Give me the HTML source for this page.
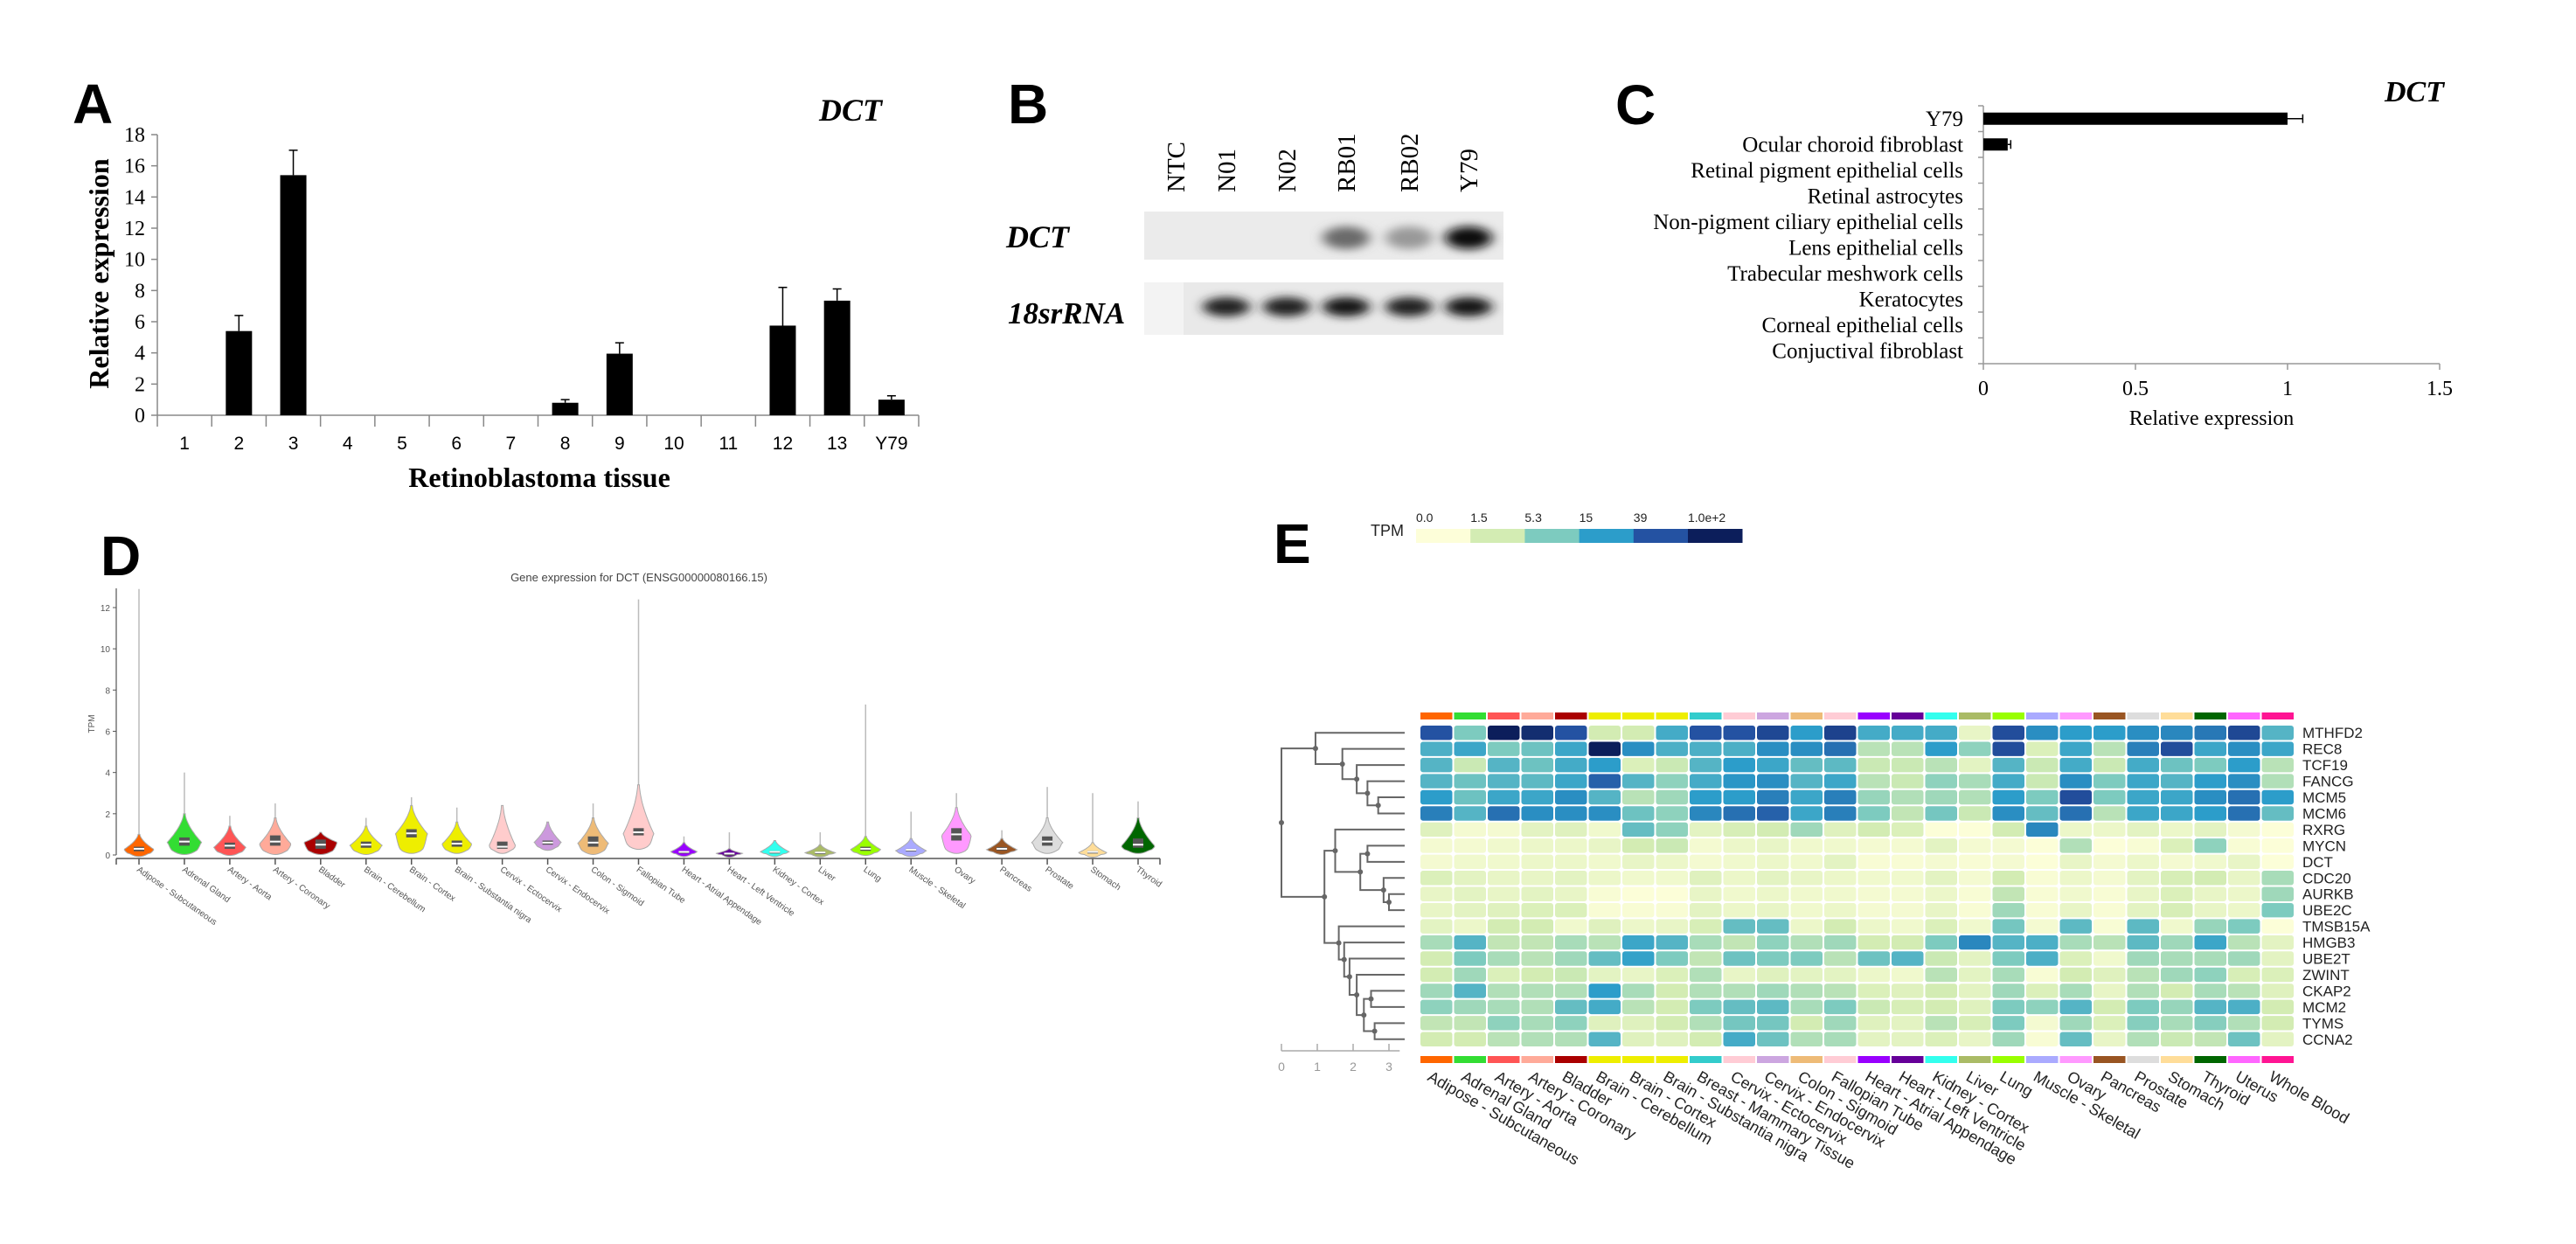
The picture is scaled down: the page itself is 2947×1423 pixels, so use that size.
<!DOCTYPE html>
<html><head><meta charset="utf-8"><title>DCT expression figure</title>
<style>
html,body{margin:0;padding:0;background:#fff;}
svg{display:block;}
.lbl{font-family:"Liberation Sans",sans-serif;font-weight:bold;font-size:64px;fill:#000;}
.ser{font-family:"Liberation Serif",serif;}
.san{font-family:"Liberation Sans",sans-serif;}
</style></head>
<body>
<svg id="fig" xmlns="http://www.w3.org/2000/svg" width="2947" height="1423" viewBox="0 0 2947 1423">
<defs>
<filter id="blur" x="-50%" y="-80%" width="200%" height="260%"><feGaussianBlur stdDeviation="7 5"/></filter>
</defs>
<rect x="0" y="0" width="2947" height="1423" fill="#fff"/>
<text class="lbl" x="83" y="141">A</text>
<text class="lbl" x="1153" y="141">B</text>
<text class="lbl" x="1848" y="142">C</text>
<text class="lbl" x="115" y="658">D</text>
<text class="lbl" x="1457" y="644">E</text>
<g id="pa"></g>
<g id="pb"></g>
<g id="pc"></g>
<g id="pd"></g>
<g id="pe"></g>
</svg>
<script>
// ---------- Panel A data ----------
const aCategories = ["1","2","3","4","5","6","7","8","9","10","11","12","13","Y79"];
const aValues = [0,5.4,15.4,0,0,0,0,0.8,3.95,0,0,5.75,7.35,1.0];
const aErrTop = [0,6.4,17.0,0,0,0,0,1.0,4.65,0,0,8.2,8.1,1.25];
const aTicks = [0,2,4,6,8,10,12,14,16,18];
// ---------- Panel B data ----------
const bLanes = ["NTC","N01","N02","RB01","RB02","Y79"];
const bDctIntensity = [0,0,0,0.55,0.35,0.95];
const b18sIntensity = [0,0.85,0.85,0.92,0.85,0.9];
// ---------- Panel C data ----------
const cCategories = ["Y79","Ocular choroid fibroblast","Retinal pigment epithelial cells","Retinal astrocytes","Non-pigment ciliary epithelial cells","Lens epithelial cells","Trabecular meshwork cells","Keratocytes","Corneal epithelial cells","Conjuctival fibroblast"];
const cValues = [1.0,0.08,0,0,0,0,0,0,0,0];
const cErr = [0.05,0.01,0,0,0,0,0,0,0,0];
const cTicks = [0,0.5,1,1.5];
const cTickLabels = ["0","0.5","1","1.5"];
// ---------- Panel D data ----------
const dTissues = ["Adipose - Subcutaneous","Adrenal Gland","Artery - Aorta","Artery - Coronary","Bladder","Brain - Cerebellum","Brain - Cortex","Brain - Substantia nigra","Cervix - Ectocervix","Cervix - Endocervix","Colon - Sigmoid","Fallopian Tube","Heart - Atrial Appendage","Heart - Left Ventricle","Kidney - Cortex","Liver","Lung","Muscle - Skeletal","Ovary","Pancreas","Prostate","Stomach","Thyroid"];
const dColors = ["#ff6600","#33dd33","#ff5555","#ffaa99","#aa0000","#eeee00","#eeee00","#eeee00","#ffcccc","#cc99dd","#eebb77","#ffcccc","#9900ff","#660099","#33ffee","#aabb66","#99ff00","#aaaaff","#ff99ff","#995522","#dddddd","#ffdd99","#006600"];
const dMin = [0.05,0.15,0.1,0.15,0.15,0.15,0.2,0.2,0.2,0.35,0.15,0.4,0.05,0.02,0.05,0.03,0.1,0.05,0.2,0.15,0.2,0.02,0.2];
const dMode = [0.25,0.6,0.35,0.5,0.6,0.45,1.0,0.5,0.4,0.6,0.55,1.0,0.15,0.07,0.15,0.1,0.25,0.2,0.9,0.25,0.6,0.1,0.4];
const dBodyTop = [1.0,2.0,1.4,1.8,1.1,1.4,2.4,1.6,2.4,1.6,1.8,3.4,0.6,0.3,0.7,0.5,0.9,0.8,2.3,0.8,1.8,0.6,1.8];
const dMax = [12.9,4.0,1.9,2.5,1.1,1.8,2.8,2.3,2.4,1.6,2.5,12.4,0.9,1.1,0.7,1.1,7.3,2.1,3.0,1.2,3.3,3.0,2.6];
const dQ1 = [0.18,0.45,0.3,0.45,0.3,0.35,0.85,0.4,0.3,0.5,0.4,0.95,0.1,0.04,0.1,0.07,0.2,0.2,0.7,0.22,0.45,0.1,0.35];
const dMed = [0.3,0.65,0.45,0.65,0.5,0.5,1.05,0.55,0.4,0.6,0.6,1.1,0.15,0.07,0.15,0.12,0.3,0.25,1.0,0.3,0.65,0.15,0.5];
const dQ3 = [0.4,0.85,0.6,0.95,0.75,0.65,1.25,0.7,0.65,0.7,0.9,1.3,0.2,0.1,0.2,0.17,0.4,0.3,1.3,0.38,0.9,0.2,0.8];
const dWidth = [0.8,0.9,0.85,0.85,0.9,0.85,0.85,0.8,0.7,0.7,0.8,0.8,0.7,0.7,0.75,0.8,0.8,0.8,0.8,0.8,0.8,0.75,0.9];
const dTicks = [0,2,4,6,8,10,12];
// ---------- Panel E data ----------
const eGenes = ["MTHFD2","REC8","TCF19","FANCG","MCM5","MCM6","RXRG","MYCN","DCT","CDC20","AURKB","UBE2C","TMSB15A","HMGB3","UBE2T","ZWINT","CKAP2","MCM2","TYMS","CCNA2"];
const eTissues = ["Adipose - Subcutaneous","Adrenal Gland","Artery - Aorta","Artery - Coronary","Bladder","Brain - Cerebellum","Brain - Cortex","Brain - Substantia nigra","Breast - Mammary Tissue","Cervix - Ectocervix","Cervix - Endocervix","Colon - Sigmoid","Fallopian Tube","Heart - Atrial Appendage","Heart - Left Ventricle","Kidney - Cortex","Liver","Lung","Muscle - Skeletal","Ovary","Pancreas","Prostate","Stomach","Thyroid","Uterus","Whole Blood"];
const eTissueColors = ["#ff6600","#33dd33","#ff5555","#ffaa99","#aa0000","#eeee00","#eeee00","#eeee00","#33cccc","#ffccd5","#cca6e0","#eebb77","#ffccd5","#9900ff","#660099","#33ffee","#aabb66","#99ff00","#aaaaff","#ff99ff","#995522","#dddddd","#ffdd99","#006600","#ff66ff","#ff1493"];
const eValues = [
[4,2,5,4.7,4,1,1,2.7,4,4,4.2,3,4.3,2.7,2.7,2.7,0.5,4.1,3.2,3,3,3.2,3.3,3.5,4.2,2.5],
[2.6,2.8,2,2.2,2.8,5,3.2,2.6,2.6,2.6,3.2,3.2,3.6,1.3,1.3,3,1.8,4.1,0.8,2.8,1.3,3.4,4.1,2.8,3.2,2.8],
[2.5,1.1,2.5,2.2,2.7,3,0.8,1.1,2.5,3,2.8,2.3,2.4,1.1,1.1,1.3,0.6,2.5,1.1,2.7,1.1,2.7,2.2,2,3,1.3],
[2.5,2.2,2.5,2.4,2.8,3.8,2.5,1.8,2.7,3.1,3.2,2.5,2.8,1.3,1.1,1.8,1.5,2.7,1.1,3.2,2,2.8,2.5,3,3.2,1.4],
[3,2.2,2.8,2.8,3.2,2.5,1.3,1.6,3,3,3.4,2.8,3.4,1.7,1.4,1.6,1.4,3,2,4.1,2,2.8,2.8,3.2,3.6,3],
[3.4,2.5,3.6,3.2,3.2,3.2,2.2,1.8,3.3,3.6,3.8,2.8,3.4,2,1.2,2.1,1.1,3.2,2.3,3.6,1.3,2.8,2.8,3,3.6,2.3],
[0.7,0.2,0.2,0.6,0.7,0.3,2.3,1.8,0.6,0.9,1,1.6,0.7,1,0.8,0,0,1,3.3,0.4,0.4,0.6,0.4,0.6,0.2,0],
[0.2,0.2,0.3,0.4,0.4,0.5,1,1.1,0.2,0.4,0.5,0.3,0.3,0.2,0.2,0.6,0.2,0.2,0,1.4,0,0.1,0.8,1.8,0.1,0],
[0.2,0.3,0.3,0.4,0.4,0.3,0.5,0.4,0.2,0.3,0.4,0.3,0.6,0.1,0.1,0.2,0.1,0.2,0,0.5,0.2,0.4,0.2,0.3,0.5,0],
[0.8,0.6,0.5,0.5,0.6,0.4,0.3,0.3,0.7,0.4,0.6,0.5,0.4,0.3,0.3,0.6,0.2,1,0.1,0.4,0.2,0.6,0.9,1,0.5,1.5],
[0.5,0.6,0.5,0.6,0.5,0.1,0,0,0.5,0.3,0.4,0.3,0.3,0.2,0.2,0.4,0.1,1.2,0.1,0.3,0.1,0.5,0.8,0.5,0.4,1.6],
[0.5,0.6,0.7,0.8,0.8,0.1,0.1,0.1,0.6,0.4,0.5,0.3,0.4,0.2,0.2,0.5,0.1,1.6,0.1,0.5,0.1,0.6,0.9,0.5,0.4,2],
[0.6,0.4,1,1,0.3,0.7,0.4,0.5,0.9,2.3,2.3,0.4,1,0.4,0.3,0.8,0.3,2.1,0.2,2.4,0.1,2.4,0.3,1.7,2,0],
[1.5,2.5,1.2,1.2,1.5,1.3,2.8,2.5,1.5,1.2,1.8,1.4,1.6,1,1,2,3.3,2.5,2.6,1.5,1.3,2.4,1.6,2.8,1.3,0.6],
[1,2,1.5,1.3,1.6,2.3,2.9,2,1.2,2.2,2,2,1.3,2.2,2.5,1.1,0.6,2,2.6,0.8,0.3,1.6,1.5,1.5,1.6,0.6],
[1,1.6,0.8,1,1.1,0.6,0.5,0.8,1.4,0.5,0.7,0.6,0.6,0.4,0.3,1.3,0.6,1.5,0.1,1,0.7,1.3,1.6,1.8,0.9,0.8],
[1.6,2.5,1.4,1.4,1.4,3,1.5,1,1.4,1.4,1.6,1.4,1.3,0.8,0.7,1,0.6,1.6,0.8,1.5,0.5,1.4,1,1.5,1.3,0.7],
[1.8,1.6,1.5,1.4,2.3,2.7,1.3,1,2,2.3,2.4,1.5,2,1.1,0.9,1,0.7,2,1.8,2.5,1,2,1.7,2.5,2.6,1],
[1.2,1.2,1.8,1.5,1.8,0.7,0.7,1,1.4,2.1,2.1,1,1.6,0.7,0.6,1.3,0.9,2,0.2,1.6,0.8,1.9,1.5,1.9,1.4,1],
[1,1,1.3,1.4,1.4,2.5,0.7,0.7,1,2.7,2.2,1.4,1.5,0.6,0.6,0.8,0.5,1.6,0.1,2.3,0.5,1.4,1.1,1.2,2.2,0.6]
];
const eLegendLabels = ["0.0","1.5","5.3","15","39","1.0e+2"];
const eLegendColors = ["#fdfed9","#d3ecb3","#7dcbbf","#2c9dca","#2452a2","#0c1e5b"];
// dendrogram merges: [left, right, height]; leaves "r#", nodes "n#"
const eMerges = [
["r4","r5",2.7],["r3","n0",2.4],["r2","n1",2.1],["r1","n2",1.7],["r0","n3",0.95],
["r10","r11",3.0],["r9","n5",2.85],["r7","r8",2.4],["n7","n6",2.2],["r6","n8",1.5],
["r16","r17",2.5],["r18","r19",2.6],["n10","n11",2.3],["r15","n12",2.1],["r14","n13",1.9],["r13","n14",1.75],["r12","n15",1.6],
["n9","n16",1.2],["n4","n17",0.0]
];
const eScaleTicks = [0,1,2,3];

const NS="http://www.w3.org/2000/svg";
function mk(parent,tag,attrs,txt){const e=document.createElementNS(NS,tag);for(const k in attrs)e.setAttribute(k,attrs[k]);if(txt!==undefined)e.textContent=txt;parent.appendChild(e);return e;}

// ================= Panel A =================
(function(){
const g=document.getElementById('pa');
const x0=180,x1=1051,y0=475,y18=154;
const bw=(x1-x0)/aCategories.length;
const ys=v=>y0-(v/18)*(y0-y18);
const xc=i=>x0+bw*(i+0.5);
let ax=mk(g,'line',{x1:x0,y1:y18,x2:x0,y2:y0,stroke:'#888','stroke-width':1.5});


ax=mk(g,'line',{x1:x0,y1:y0,x2:x1,y2:y0,stroke:'#888','stroke-width':1.5});


aTicks.forEach(t=>{
  mk(g,'line',{x1:x0-7,y1:ys(t),x2:x0,y2:ys(t),stroke:'#888','stroke-width':1.5});
  const tl=mk(g,'text',{x:x0-14,y:ys(t)+8,'text-anchor':'end','font-size':24,class:'ser'},String(t));
  
  
});
for(let i=0;i<=aCategories.length;i++){mk(g,'line',{x1:x0+bw*i,y1:y0,x2:x0+bw*i,y2:y0+13,stroke:'#888','stroke-width':1.5});}
aCategories.forEach((c,i)=>{
  const tl=mk(g,'text',{x:xc(i),y:514,'text-anchor':'middle','font-size':21,class:'san'},c);
  
  
  if(aValues[i]>0){
    const r=mk(g,'rect',{x:xc(i)-15,y:ys(aValues[i]),width:30,height:y0-ys(aValues[i]),fill:'#000'});
    
    
    const cx=xc(i);
    const e=mk(g,'path',{d:`M${cx},${ys(aValues[i])}V${ys(aErrTop[i])}M${cx-5},${ys(aErrTop[i])}H${cx+5}`,stroke:'#000','stroke-width':1.5,fill:'none'});
    
    
  }
});
let t=mk(g,'text',{x:617,y:557,'text-anchor':'middle','font-size':32,'font-weight':'bold',class:'ser'},'Retinoblastoma tissue');


t=mk(g,'text',{x:0,y:0,'text-anchor':'middle','font-size':32,'font-weight':'bold',class:'ser',transform:'translate(124,313) rotate(-90)'},'Relative expression');


t=mk(g,'text',{x:937,y:138,'font-size':36,'font-weight':'bold','font-style':'italic',class:'ser'},'DCT');


})();

// ================= Panel B =================
(function(){
const g=document.getElementById('pb');
const lx=[1345,1403,1472,1540,1612,1680];
bLanes.forEach((l,i)=>{
  const t=mk(g,'text',{x:0,y:0,'font-size':29,class:'ser',transform:`translate(${lx[i]+10},220) rotate(-90)`},l);
  
  
});
let r=mk(g,'rect',{x:1309,y:242,width:411,height:55,fill:'#ebebeb'});


r=mk(g,'rect',{x:1309,y:323,width:411,height:60,fill:'#e9e9e9'});


mk(g,'rect',{x:1309,y:323,width:45,height:60,fill:'#f3f3f3'});
bLanes.forEach((l,i)=>{
  if(bDctIntensity[i]>0){
    const v=Math.round(235*(1-bDctIntensity[i]));
    const e=mk(g,'ellipse',{cx:lx[i],cy:272,rx:27,ry:13,fill:`rgb(${v},${v},${v})`,filter:'url(#blur)'});
    
    
  }
  if(b18sIntensity[i]>0){
    const v=Math.round(235*(1-b18sIntensity[i]));
    const e=mk(g,'ellipse',{cx:lx[i],cy:351,rx:27,ry:11,fill:`rgb(${v},${v},${v})`,filter:'url(#blur)'});
    
    
  }
});
let t=mk(g,'text',{x:1151,y:283,'font-size':36,'font-weight':'bold','font-style':'italic',class:'ser'},'DCT');


t=mk(g,'text',{x:1153,y:370,'font-size':35,'font-weight':'bold','font-style':'italic',class:'ser'},'18srRNA');


})();

// ================= Panel C =================
(function(){
const g=document.getElementById('pc');
const x0=2269,x1=2791,yTop=121,yBot=416;
const xs=v=>x0+(v/1.5)*(x1-x0);
const rowH=(yBot-yTop)/cCategories.length;
const yc=i=>yTop+rowH*(i+0.5);
let a=mk(g,'line',{x1:x0,y1:yTop,x2:x0,y2:yBot,stroke:'#999','stroke-width':1.5});


a=mk(g,'line',{x1:x0,y1:yBot,x2:x1,y2:yBot,stroke:'#999','stroke-width':1.5});


for(let i=0;i<=cCategories.length;i++)mk(g,'line',{x1:x0-6,y1:yTop+rowH*i,x2:x0,y2:yTop+rowH*i,stroke:'#999','stroke-width':1.5});
cTicks.forEach((t,i)=>{
  mk(g,'line',{x1:xs(t),y1:yBot,x2:xs(t),y2:yBot+7,stroke:'#999','stroke-width':1.5});
  const tl=mk(g,'text',{x:xs(t),y:452,'text-anchor':'middle','font-size':24,class:'ser'},cTickLabels[i]);
  
  
});
cCategories.forEach((c,i)=>{
  const tl=mk(g,'text',{x:2246,y:yc(i)+8,'text-anchor':'end','font-size':25,class:'ser'},c);
  
  
  if(cValues[i]>0){
    const r=mk(g,'rect',{x:x0,y:yc(i)-7,width:xs(cValues[i])-x0,height:14,fill:'#000'});
    
    
    const xe=xs(cValues[i]+cErr[i]);
    const e=mk(g,'path',{d:`M${xs(cValues[i])},${yc(i)}H${xe}M${xe},${yc(i)-5}V${yc(i)+5}`,stroke:'#000','stroke-width':1.5,fill:'none'});
    
    
  }
});
let t=mk(g,'text',{x:2530,y:486,'text-anchor':'middle','font-size':24,class:'ser'},'Relative expression');


t=mk(g,'text',{x:2728,y:116,'font-size':34,'font-weight':'bold','font-style':'italic',class:'ser'},'DCT');


})();

// ================= Panel D =================
(function(){
const g=document.getElementById('pd');
const ax0=133,ax1=1327,y0=978,y12=695;
const ys=v=>y0-v*(y0-y12)/12;
const xc=i=>159+i*(1302-159)/(dTissues.length-1);
let t=mk(g,'text',{x:731,y:665,'text-anchor':'middle','font-size':13,fill:'#444',class:'san'},'Gene expression for DCT (ENSG00000080166.15)');


let a=mk(g,'line',{x1:ax0,y1:673,x2:ax0,y2:y0,stroke:'#555','stroke-width':1.2});


a=mk(g,'line',{x1:ax0,y1:y0+4,x2:ax1,y2:y0+4,stroke:'#555','stroke-width':1.5});


mk(g,'line',{x1:ax0,y1:y0+4,x2:ax0,y2:y0+11,stroke:'#555','stroke-width':1.5});
mk(g,'line',{x1:ax1,y1:y0+4,x2:ax1,y2:y0+11,stroke:'#555','stroke-width':1.5});
dTicks.forEach(v=>{
  mk(g,'line',{x1:ax0-4,y1:ys(v),x2:ax0,y2:ys(v),stroke:'#555'});
  const tl=mk(g,'text',{x:ax0-7,y:ys(v)+4,'text-anchor':'end','font-size':10,fill:'#555',class:'san'},String(v));
  
  
});
t=mk(g,'text',{x:0,y:0,'text-anchor':'middle','font-size':10,fill:'#555',class:'san',transform:'translate(108,828) rotate(-90)'},'TPM');


dTissues.forEach((name,i)=>{
  const cx=xc(i),hw=21*dWidth[i];
  mk(g,'line',{x1:cx,y1:y0+4,x2:cx,y2:y0+11,stroke:'#555','stroke-width':1.5});
  const wl=mk(g,'line',{x1:cx,y1:ys(dBodyTop[i]),x2:cx,y2:ys(dMax[i]),stroke:'#bbb','stroke-width':1.5});
  
  
  const N=24,L=[],R=[];
  const lo=dMin[i],mo=dMode[i],hi=dBodyTop[i];
  for(let k=0;k<=N;k++){
    const v=lo+(hi-lo)*k/N;let w;
    if(v<=mo){const s=Math.min(1,Math.max(0,(v-lo)/Math.max(mo-lo,1e-6)));w=hw*(0.6+0.4*Math.sqrt(s));}
    else{const s=Math.min(1,Math.max(0,(v-mo)/Math.max(hi-mo,1e-6)));w=hw*Math.pow(1-s,1.6)+1;}
    L.push([cx-w,ys(v)]);R.push([cx+w,ys(v)]);
  }
  const Rr=R.slice().reverse();
  let d='M'+L.map(p=>p[0].toFixed(1)+','+p[1].toFixed(1)).join('L');
  d+='L'+Rr.map(p=>p[0].toFixed(1)+','+p[1].toFixed(1)).join('L');
  d+=`Q${cx},${ys(lo)+6} ${L[0][0].toFixed(1)},${L[0][1].toFixed(1)}Z`;
  const vp=mk(g,'path',{d:d,fill:dColors[i],stroke:'#aaa','stroke-width':1});
  
  
  const bx=mk(g,'rect',{x:cx-6,y:ys(dQ3[i]),width:12,height:Math.max(ys(dQ1[i])-ys(dQ3[i]),3),fill:'#555'});
  
  
  mk(g,'line',{x1:cx-6,y1:ys(dMed[i]),x2:cx+6,y2:ys(dMed[i]),stroke:'#fff','stroke-width':2});
  const tl=mk(g,'text',{x:0,y:0,'font-size':10,fill:'#555',class:'san',transform:`translate(${cx-3},${y0+18}) rotate(35)`},name);
  
  
});
})();

// ================= Panel E =================
(function(){
const g=document.getElementById('pe');
const cx0=1624,cx1=2625,ry0=829,ry1=1198;
const cw=(cx1-cx0)/eTissues.length, rh=(ry1-ry0)/eGenes.length;
function hex(h){return [parseInt(h.substr(1,2),16),parseInt(h.substr(3,2),16),parseInt(h.substr(5,2),16)];}
const stops=["#fcfed8","#d3ecb3","#7dcbbf","#2c9dca","#2452a2","#0c1e5b"].map(hex);
function col(v){v=Math.max(0,Math.min(5,v));const k=Math.min(4,Math.floor(v)),f=v-k;const a=stops[k],b=stops[k+1];return `rgb(${a.map((c,j)=>Math.round(c+(b[j]-c)*f)).join(',')})`;}
let t=mk(g,'text',{x:1568,y:613,'font-size':18,class:'san',fill:'#222'},'TPM');


eLegendColors.forEach((c,i)=>{
  const r=mk(g,'rect',{x:1620+i*62.2,y:605,width:62.5,height:16,fill:c});
  
  
  const tl=mk(g,'text',{x:1620+i*62.2,y:597,'font-size':14,class:'san',fill:'#222'},eLegendLabels[i]);
  
  
});
eTissues.forEach((n,j)=>{
  const r1=mk(g,'rect',{x:cx0+j*cw+1,y:815,width:cw-2,height:8,fill:eTissueColors[j]});
  
  
  const r2=mk(g,'rect',{x:cx0+j*cw+1,y:1208,width:cw-2,height:8,fill:eTissueColors[j]});
  
  
  const tl=mk(g,'text',{x:0,y:0,'font-size':18,class:'san',fill:'#222',transform:`translate(${cx0+j*cw+8},${1235}) rotate(30)`},n);
  
  
});
eGenes.forEach((gn,i)=>{
  eTissues.forEach((tn,j)=>{
    const r=mk(g,'rect',{x:cx0+j*cw+1,y:ry0+i*rh+1,width:cw-2,height:rh-2,rx:3,fill:col(eValues[i][j])});
    
    
  });
  const tl=mk(g,'text',{x:2634,y:ry0+i*rh+rh/2+6,'font-size':17,class:'san',fill:'#222'},gn);
  
  
});
const dx=h=>1466+h*41, leafX=1607;
const pos={};
eGenes.forEach((gn,i)=>{pos['r'+i]={x:leafX,y:ry0+i*rh+rh/2};});
eMerges.forEach((m,k)=>{
  const a=pos[m[0]],b=pos[m[1]],x=dx(m[2]),y=(a.y+b.y)/2;
  const p=mk(g,'path',{d:`M${a.x},${a.y}H${x}V${b.y}H${b.x}`,stroke:'#666','stroke-width':2,fill:'none'});
  
  
  mk(g,'circle',{cx:x,cy:y,r:3,fill:'#666'});
  pos['n'+k]={x:x,y:y};
});
let ax=mk(g,'line',{x1:dx(0),y1:1202,x2:dx(3.3),y2:1202,stroke:'#aaa','stroke-width':1.5});


eScaleTicks.forEach(v=>{
  mk(g,'line',{x1:dx(v),y1:1202,x2:dx(v),y2:1194,stroke:'#aaa','stroke-width':1.5});
  const tl=mk(g,'text',{x:dx(v),y:1225,'text-anchor':'middle','font-size':14,fill:'#999',class:'san'},String(v));
  
  
});
})();
</script>
</body></html>
